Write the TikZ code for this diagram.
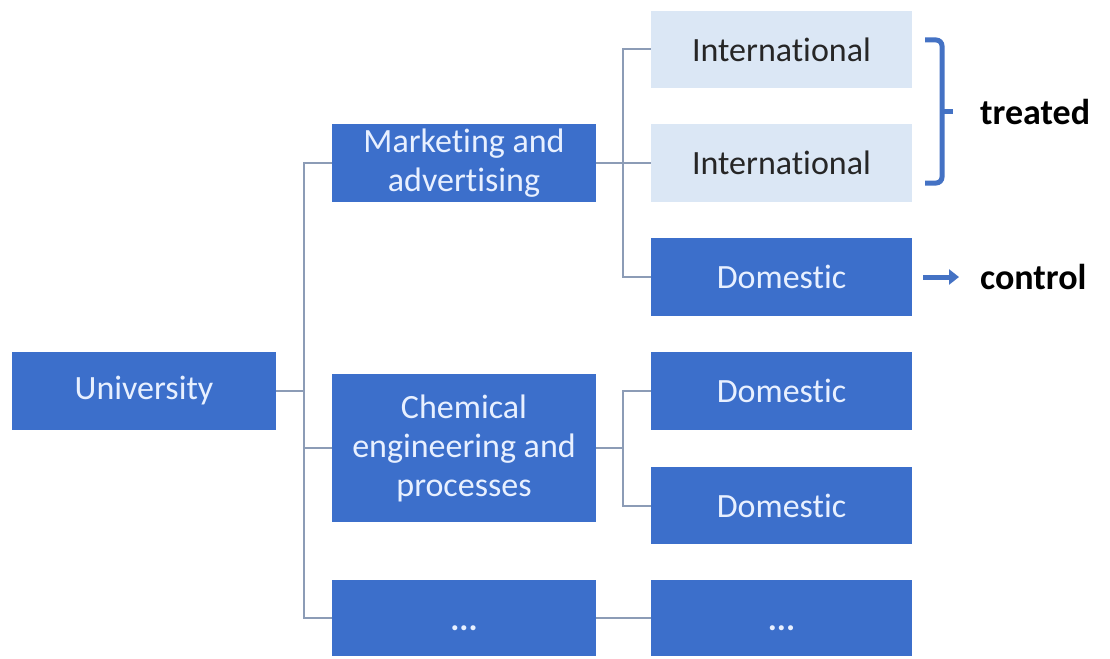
\documentclass[tikz,border=0pt]{standalone}
\usepackage{fontspec}
\setmainfont[Ligatures={NoCommon}]{Carlito}
\usetikzlibrary{arrows.meta}
\definecolor{dblue}{RGB}{60,111,203}
\definecolor{lblue}{RGB}{219,231,245}
\definecolor{ltext}{RGB}{232,240,255}
\definecolor{conn}{RGB}{140,156,182}
\definecolor{brc}{RGB}{68,114,196}
\tikzset{
  darkbox/.style={fill=dblue, text=ltext, minimum width=264pt, inner sep=0pt, align=center, font=\fontsize{34}{39}\selectfont},
  lightbox/.style={fill=lblue, text=black!85, minimum width=261pt, inner sep=0pt, align=center, font=\fontsize{34}{39}\selectfont},
  subbox/.style={darkbox, minimum width=261pt},
  connline/.style={draw=conn, line width=2pt},
  lbl/.style={anchor=west, inner sep=0pt, font=\bfseries\fontsize{36}{40}\selectfont, text=black},
}
\newcommand{\lowdots}{\raisebox{-12pt}[0pt][0pt]{\textbf{...}}}
\begin{document}
\begin{tikzpicture}[x=1pt,y=1pt]
\useasboundingbox (0,0) rectangle (1110,-658);
\node[darkbox, minimum height=78pt] (uni) at (144,-391) {University};
\node[darkbox, minimum height=78pt] (mkt) at (464,-163) {Marketing and\\advertising};
\node[darkbox, minimum height=148pt] (chem) at (464,-448) {Chemical\\engineering and\\processes};
\node[darkbox, minimum height=76pt] (dots1) at (464,-618) {\lowdots};
\node[lightbox, minimum height=77pt] (int1) at (781.5,-49.5) {International};
\node[lightbox, minimum height=78pt] (int2) at (781.5,-163) {International};
\node[subbox, minimum height=78pt] (dom0) at (781.5,-277) {Domestic};
\node[subbox, minimum height=78pt] (dom1) at (781.5,-391) {Domestic};
\node[subbox, minimum height=77pt] (dom2) at (781.5,-505.5) {Domestic};
\node[subbox, minimum height=76pt] (dots2) at (781.5,-618) {\lowdots};
\coordinate (tr) at (304,0);
\coordinate (sb) at (623,0);
% connectors
\draw[connline] (mkt.west) -- (mkt.west -| tr) |- (dots1.west);
\draw[connline] (uni.east) -- (uni.east -| tr);
\draw[connline] (chem.west) -- (chem.west -| tr);
\draw[connline] (int1.west) -- (int1.west -| sb) |- (dom0.west);
\draw[connline] (mkt.east) -- (int2.west);
\draw[connline] (dom1.west) -- (dom1.west -| sb) |- (dom2.west);
\draw[connline] (chem.east) -- (chem.east -| sb);
\draw[connline] (dots1.east) -- (dots2.west);
% labels
\node[lbl] (treated) at (980,-112) {treated};
\node[lbl] (ctrl) at (980,-277) {control};
% brace
\coordinate (bt) at (925,-40);
\coordinate (bb) at (925,-183);
\draw[brc, line width=5pt, rounded corners=6pt] (bt) -- (942,-40) -- (942,-183) -- (bb);
\draw[brc, line width=5pt] (942,-112) -- ([xshift=-27pt]treated.west);
% arrow
\draw[brc, line width=5pt, -{Triangle[length=10pt,width=15pt]}] ([xshift=11pt]dom0.east) -- ([xshift=-21pt]ctrl.west);
\end{tikzpicture}
\end{document}
